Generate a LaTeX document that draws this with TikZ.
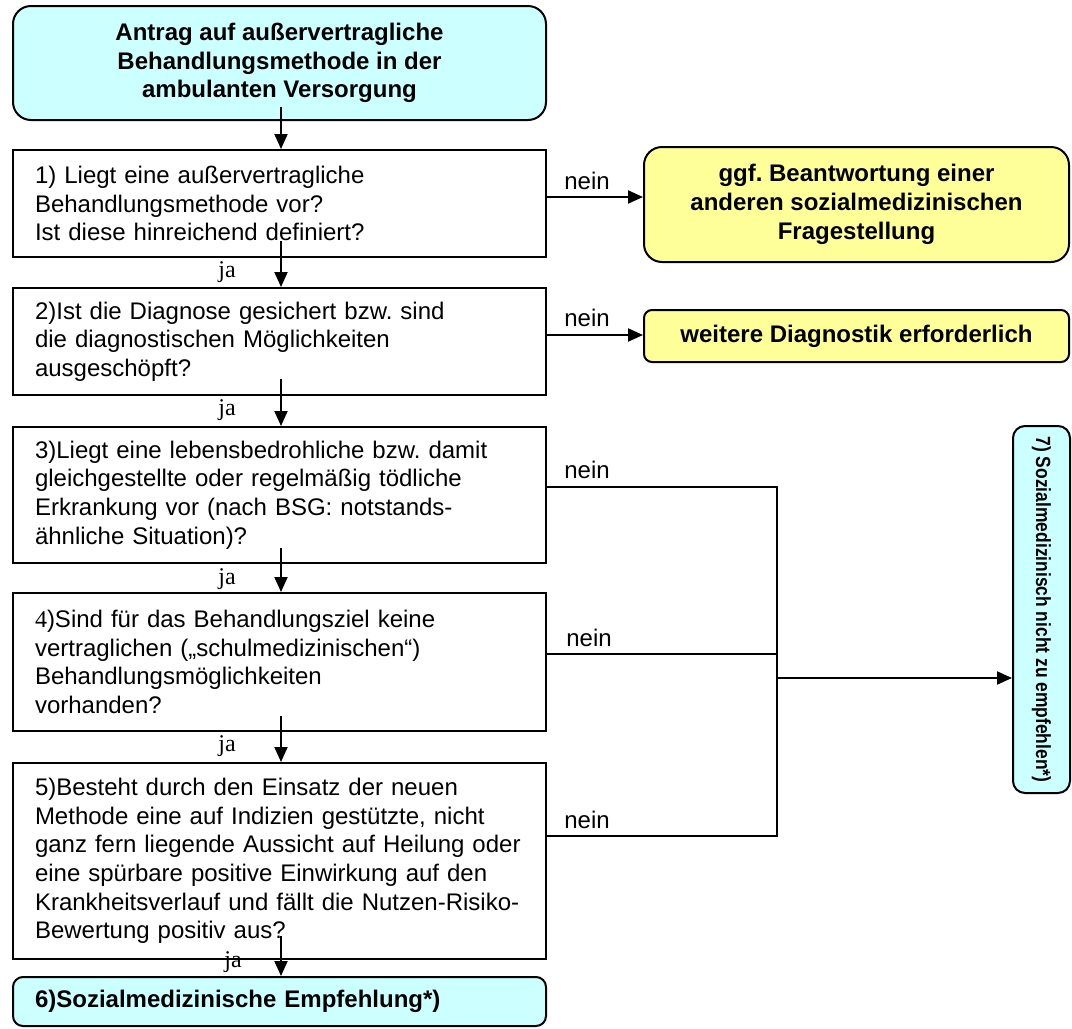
\documentclass[tikz,border=0pt]{standalone}
\usepackage{fontspec}
\setmainfont{Liberation Sans}
\newfontfamily\seriffont{Liberation Serif}
\usetikzlibrary{arrows.meta,calc}
\definecolor{cyanfill}{HTML}{CCFFFF}
\definecolor{yellowfill}{HTML}{FFFF99}
\frenchspacing
\begin{document}
\begin{tikzpicture}[x=1pt,y=-1pt,
  qbox/.style={draw, line width=2pt, rectangle, minimum width=533pt, text width=489pt, inner xsep=22pt, inner ysep=0pt, align=left, font=\fontsize{24}{28.7}\selectfont},
  rbox/.style={draw, line width=2pt, rounded corners=18pt, align=center, inner sep=0pt, font=\bfseries\fontsize{24}{28.7}\selectfont},
  arr/.style={line width=2pt, -{Triangle[length=15pt,width=13pt]}},
  conn/.style={line width=2pt},
  lab/.style={font=\fontsize{24}{28}\selectfont, inner sep=0pt},
  jalab/.style={font=\seriffont\fontsize{24}{28}\selectfont, inner sep=0pt}]
\useasboundingbox (0,0) rectangle (1072,1029);

\node[rbox, fill=cyanfill, minimum width=533pt, minimum height=114pt] (top) at (279.5,63) {Antrag auf außervertragliche\\Behandlungsmethode in der\\ambulanten Versorgung};

\node[qbox, minimum height=107pt] (b1) at (279.5,203.5) {1) Liegt eine außervertragliche\\Behandlungsmethode vor?\\Ist diese hinreichend definiert?};
\node[qbox, minimum height=107pt] (b2) at (279.5,341.5) {2)Ist die Diagnose gesichert bzw. sind\\die diagnostischen Möglichkeiten\\ausgeschöpft?};
\node[qbox, minimum height=136pt] (b3) at (279.5,495) {3)Liegt eine lebensbedrohliche bzw. damit\\gleichgestellte oder regelmäßig tödliche\\Erkrankung vor (nach BSG: notstands-\\ähnliche Situation)?};
\node[qbox, minimum height=138pt] (b4) at (279.5,662) {{\seriffont 4})Sind für das Behandlungsziel keine\\vertraglichen („schulmedizinischen“)\\Behandlungsmöglichkeiten\\vorhanden?};
\node[qbox, minimum height=196pt] (b5) at (279.5,861) {5)Besteht durch den Einsatz der neuen\\Methode eine auf Indizien gestützte, nicht\\ganz fern liegende Aussicht auf Heilung oder\\eine spürbare positive Einwirkung auf den\\Krankheitsverlauf und fällt die Nutzen-Risiko-\\Bewertung positiv aus?};
\node[rbox, fill=cyanfill, rounded corners=10pt, minimum width=533pt, minimum height=49pt, text width=489pt, align=left] (b6) at (279.5,1001.5) {6)Sozialmedizinische Empfehlung*)};

\node[rbox, fill=yellowfill, minimum width=425pt, minimum height=115pt] (y1) at (856.5,204.5) {ggf. Beantwortung einer\\anderen sozialmedizinischen\\Fragestellung};
\node[rbox, fill=yellowfill, rounded corners=8pt, minimum width=425pt, minimum height=52pt] (y2) at (856.5,336) {weitere Diagnostik erforderlich};

\node[rbox, fill=cyanfill, rotate=-90, rounded corners=12pt, minimum width=367pt, minimum height=57pt, font=\bfseries\fontsize{20.5}{24}\selectfont] (r7) at (1041.5,609.5) {\scalebox{0.85}[1]{7) Sozialmedizinisch nicht zu empfehlen*)}};

% vertical yes arrows
\draw[arr] ([xshift=1.5pt,yshift=14pt]top.south) -- ([xshift=1.5pt]b1.north);
\draw[arr] ([xshift=1.5pt,yshift=17pt]b1.south) -- ([xshift=1.5pt]b2.north);
\draw[arr] ([xshift=1.5pt,yshift=17pt]b2.south) -- ([xshift=1.5pt]b3.north);
\draw[arr] ([xshift=1.5pt,yshift=16pt]b3.south) -- ([xshift=1.5pt]b4.north);
\draw[arr] ([xshift=1.5pt,yshift=16pt]b4.south) -- ([xshift=1.5pt]b5.north);
\draw[arr] ([xshift=1.5pt,yshift=24pt]b5.south) -- ([xshift=1.5pt]b6.north);

\node[jalab] (ja1) at (227,272) {ja};
\node[jalab] (ja2) at (227,410) {ja};
\node[jalab] (ja3) at (227,579) {ja};
\node[jalab] (ja4) at (227,746) {ja};
\node[jalab] (ja5) at (233,962) {ja};

% no arrows
\draw[arr] ([yshift=6.5pt]b1.east) -- ([yshift=6.5pt]b1.east -| y1.west);
\draw[arr] ([yshift=6.5pt]b2.east) -- ([yshift=6.5pt]b2.east -| y2.west);
\node[lab] (n1) at (587,181) {nein};
\node[lab] (n2) at (587,318) {nein};

\coordinate (j) at (777,678);
\draw[conn] ([yshift=8pt]b3.east) -- ([yshift=8pt]b3.east -| j) -- ([yshift=25pt]b5.east -| j) -- ([yshift=25pt]b5.east);
\draw[conn] ([yshift=8pt]b4.east) -- ([yshift=8pt]b4.east -| j);
\draw[arr] (j) -- (j -| r7.south);
\node[lab] (n3) at (587,470) {nein};
\node[lab] (n4) at (589,638) {nein};
\node[lab] (n5) at (587,820) {nein};
\end{tikzpicture}
\end{document}
